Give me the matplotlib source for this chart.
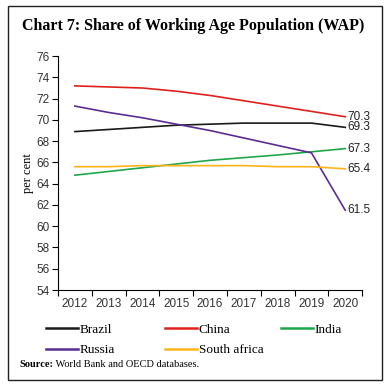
import matplotlib
matplotlib.use("Agg")
import matplotlib.pyplot as plt
from matplotlib.patches import Rectangle

years = ["2012", "2013", "2014", "2015", "2016", "2017", "2018", "2019", "2020"]
brazil = [68.9, 69.1, 69.3, 69.5, 69.6, 69.7, 69.7, 69.7, 69.3]
china = [73.2, 73.1, 73.0, 72.7, 72.3, 71.8, 71.3, 70.8, 70.3]
india = [64.8, 65.15, 65.5, 65.85, 66.2, 66.45, 66.7, 67.0, 67.3]
russia = [71.3, 70.7, 70.2, 69.6, 69.0, 68.3, 67.6, 66.9, 61.5]
south_africa = [65.6, 65.6, 65.7, 65.7, 65.7, 65.7, 65.6, 65.6, 65.4]

series = [
    ("Brazil", brazil, "#1a1a1a"),
    ("China", china, "#e0201b"),
    ("India", india, "#1fa64a"),
    ("Russia", russia, "#5b2d91"),
    ("South africa", south_africa, "#ffb31a"),
]

serif = ["Liberation Serif", "DejaVu Serif"]
sans = ["Liberation Sans", "DejaVu Sans"]

fig = plt.figure(figsize=(3.89, 3.87), dpi=100)
ax = fig.add_axes([0.149, 0.2506, 0.782, 0.6044])

x = list(range(len(years)))
lines = {}
for name, vals, col in series:
    (ln,) = ax.plot(x, vals, color=col, lw=1.2, label=name)
    lines[name] = ln
    ax.text(x[-1] + 0.05, vals[-1], f"{vals[-1]:.1f}", fontsize=8.5,
            family=sans, color="#222222", va="center", ha="left")

ax.set_ylim(54, 76)
ax.set_yticks(range(54, 77, 2))
ax.set_xlim(-0.5, 8.5)
ax.set_xticks([i - 0.5 for i in range(len(years) + 1)])
ax.set_xticklabels([])
ax.set_xticks(x, minor=True)
ax.set_xticklabels(years, minor=True)
ax.tick_params(axis="x", which="minor", length=0, pad=6)
ax.tick_params(axis="x", which="major", length=4, direction="out")
ax.tick_params(axis="y", length=4, direction="out", pad=2)
for lab in ax.get_xticklabels(minor=True) + ax.get_yticklabels():
    lab.set_family(sans)
    lab.set_fontsize(8.5)
    lab.set_color("#333333")
ax.spines["top"].set_visible(False)
ax.spines["right"].set_visible(False)
ax.spines["left"].set_linewidth(0.8)
ax.spines["bottom"].set_linewidth(0.8)
ax.set_ylabel("per cent", family=serif, fontsize=9, labelpad=2)

# legend: three fixed-width columns, as in the source
cols = [["Brazil", "Russia"], ["China", "South africa"], ["India"]]
col_x = [0.118, 0.424, 0.722]
for names, cx in zip(cols, col_x):
    leg = fig.legend([lines[n] for n in names], names, frameon=False,
                     loc="upper left", bbox_to_anchor=(cx, 0.164),
                     prop={"family": serif, "size": 9.5}, handlelength=2.4,
                     handletextpad=0.15, labelspacing=0.62, borderpad=0,
                     borderaxespad=0)
    for h in leg.get_lines():
        h.set_linewidth(1.8)

fig.text(0.057, 0.933, "Chart 7: Share of Working Age Population (WAP)",
         family=serif, fontsize=11.5, fontweight="bold", va="center")
src = fig.text(0.049, 0.059, "Source:", family=serif, fontsize=7.5,
               fontweight="bold", va="center")
ax.annotate(" World Bank and OECD databases.", xy=(1, 0.5), xycoords=src,
            family=serif, fontsize=7.5, va="center", ha="left",
            annotation_clip=False)

fig.patches.append(Rectangle((8 / 389, 7 / 387), 374 / 389, 374 / 387,
                             transform=fig.transFigure, fill=False,
                             edgecolor="#222222", lw=1.0))

fig.savefig("out.png", dpi=100)
